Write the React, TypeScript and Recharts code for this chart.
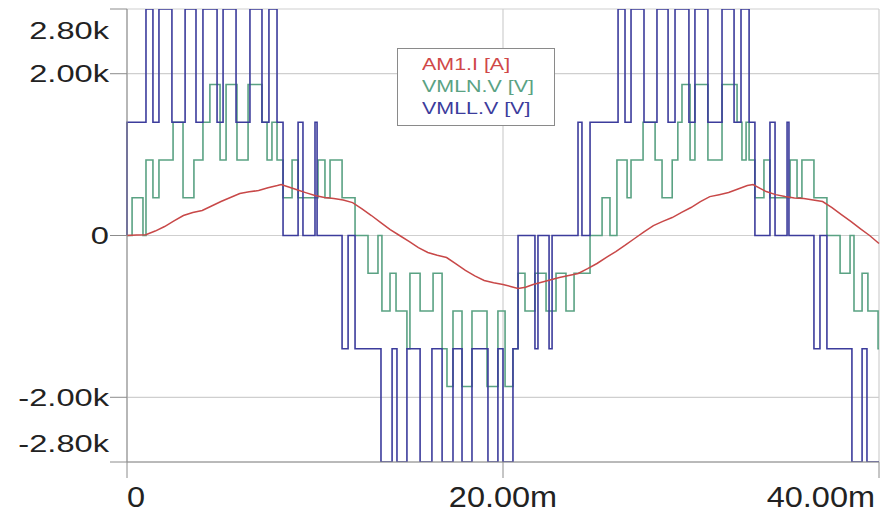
import { LineChart, Line, XAxis, YAxis, CartesianGrid } from 'recharts'

// time axis in ms, voltage/current axis in V / A
const timeTicks = [0, 20, 40]
const timeLabels = ['0', '20.00m', '40.00m']
const valueTicks = [-2800, -2000, 0, 2000, 2800]
const valueLabels = ['-2.80k', '-2.00k', '0', '2.00k', '2.80k']

// AM1.I [A] : [t ms, A]
const am1Current: [number, number][] = [
  [0, 0], [0.5, 5], [1, 10], [1.5, 55], [2, 111], [2.5, 180], [3, 247], [3.5, 285], [4, 309],
  [4.5, 365], [5, 420], [5.5, 470], [6, 519], [6.5, 540], [7, 556], [7.5, 590], [8, 617],
  [8.2, 630], [8.6, 600], [9, 568], [9.5, 530], [10, 494], [10.5, 470], [11, 457], [11.5, 440],
  [12, 407], [12.5, 330], [13, 247], [13.5, 160], [14, 74], [14.5, 0], [15, -74], [15.5, -150],
  [16, -210], [16.5, -245], [17, -272], [17.5, -350], [18, -432], [18.5, -500], [19, -556],
  [19.5, -585], [20, -605], [20.4, -630], [20.8, -654], [21.2, -640], [21.6, -605], [22, -580],
  [22.5, -550], [23, -519], [23.5, -495], [24, -469], [24.5, -410], [25, -346], [25.5, -270],
  [26, -198], [26.5, -120], [27, -37], [27.5, 45], [28, 123], [28.5, 175], [29, 222], [29.5, 285],
  [30, 346], [30.5, 420], [31, 481], [31.5, 505], [32, 531], [32.5, 575], [33, 617], [33.3, 630],
  [33.7, 580], [34, 543], [34.5, 505], [35, 481], [35.5, 465], [36, 457], [36.5, 440], [37, 420],
  [37.5, 345], [38, 259], [38.5, 175], [39, 86], [39.5, 0], [40, -99],
]

// VMLN.V [V] : step changes [t ms, V]
const vmlnSteps: [number, number][] = [
  [0, 0], [0.27, 467], [0.85, 0], [1.01, 933], [1.38, 467], [1.7, 933], [2.45, 1400], [2.98, 467],
  [3.56, 933], [4.04, 1400], [4.41, 1867], [4.95, 933], [5.27, 1867], [5.85, 933], [6.44, 1867],
  [7.18, 1400], [7.45, 933], [7.71, 1400], [7.98, 933], [8.3, 467], [8.78, 933], [9.1, 467],
  [10.16, 933], [10.53, 467], [10.8, 933], [11.44, 467], [12.13, 0], [12.82, -467], [13.35, 0],
  [13.56, -933], [13.99, -467], [14.31, -933], [14.89, -1400], [15.05, -467], [15.59, -933],
  [16.28, -467], [16.76, -1400], [17.02, -1867], [17.34, -933], [17.82, -1867], [18.35, -933],
  [19.15, -1867], [19.73, -933], [20.11, -1867], [20.53, -1400], [20.8, -467], [21.17, -933],
  [21.7, -467], [22.29, -933], [22.82, -467], [23.35, -933], [23.78, -467], [24.63, 0],
  [25.27, 467], [25.69, 0], [26.06, 933], [26.6, 467], [26.81, 933], [27.45, 1400], [28.09, 933],
  [28.46, 467], [29.0, 933], [29.3, 1400], [29.52, 1867], [29.95, 933], [30.21, 1867], [30.9, 933],
  [31.65, 1867], [32.45, 1400], [32.71, 933], [32.93, 1400], [33.09, 933], [33.4, 467], [33.88, 933],
  [34.2, 467], [35.27, 933], [35.64, 467], [35.9, 933], [36.54, 467], [37.23, 0], [37.93, -467],
  [38.46, 0], [38.67, -933], [39.1, -467], [39.41, -933], [39.95, -1400], [40, -1400],
]

// VMLL.V [V] : step changes [t ms, V]
const vmllSteps: [number, number][] = [
  [0, 0], [0, 1400], [1.01, 2800], [1.38, 1400], [1.7, 2800], [2.39, 1400], [3.09, 2800], [3.67, 1400],
  [4.04, 2800], [4.79, 1400], [5.11, 2800], [5.8, 1400], [6.54, 2800], [7.18, 1400], [7.55, 2800],
  [7.98, 1400], [8.3, 0], [9.1, 1400], [9.36, 0], [10.0, 1400], [10.11, 0], [11.44, -1400], [11.76, 0],
  [12.13, -1400], [13.51, -2800], [14.1, -1400], [14.36, -2800], [14.89, -1400], [15.59, -2800],
  [16.22, -1400], [16.76, -2800], [17.34, -1400], [17.82, -2800], [18.35, -1400], [19.2, -2800],
  [19.73, -1400], [20.0, -2800], [20.53, -1400], [20.8, 0], [21.7, -1400], [21.86, 0], [22.45, -1400],
  [22.61, 0], [23.99, 1400], [24.2, 0], [24.63, 1400], [26.12, 2800], [26.49, 1400], [26.81, 2800],
  [27.5, 1400], [28.19, 2800], [28.78, 1400], [29.15, 2800], [29.89, 1400], [30.21, 2800], [30.9, 1400],
  [31.65, 2800], [32.29, 1400], [32.66, 2800], [33.09, 1400], [33.4, 0], [34.2, 1400], [34.47, 0],
  [35.11, 1400], [35.21, 0], [36.54, -1400], [36.86, 0], [37.23, -1400], [38.56, -2800], [39.1, -1400],
  [39.36, -2800], [40, -2800],
]

const toRows = (pts: [number, number][]) => pts.map(([t, v]) => ({ t, v }))

const FONT = '"Liberation Sans", Arial, sans-serif'

const YTick = ({ x, y, payload }: any) => {
  const i = valueTicks.indexOf(payload.value)
  let dy = 0
  if (payload.value === 2800) dy = 21
  if (payload.value === -2800) dy = -19
  return (
    <g transform={`translate(${x},${y + dy}) scale(1.36,1)`}>
      <text x={0} y={0} dy={8.5} textAnchor="end" fontSize={24} fill="#222" fontFamily={FONT}>
        {valueLabels[i]}
      </text>
    </g>
  )
}

const XTick = ({ x, y, payload }: any) => {
  const i = timeTicks.indexOf(payload.value)
  const anchor = i === 0 ? 'start' : i === timeTicks.length - 1 ? 'end' : 'middle'
  return (
    <g transform={`translate(${x},${y}) scale(1.12,1)`}>
      <text x={0} y={0} dy={27} textAnchor={anchor} fontSize={29} fill="#222" fontFamily={FONT}>
        {timeLabels[i]}
      </text>
    </g>
  )
}

const legendItems = [
  { name: 'AM1.I [A]', color: '#d04848' },
  { name: 'VMLN.V [V]', color: '#5aa283' },
  { name: 'VMLL.V [V]', color: '#3c3c9c' },
]

const LegendBox = () => (
  <div
    style={{
      position: 'absolute',
      left: 397,
      top: 48,
      width: 158,
      height: 78,
      border: '1px solid #8a8a8a',
      background: '#fff',
      boxSizing: 'border-box',
      paddingLeft: 24,
      paddingTop: 5,
      fontFamily: FONT,
      fontSize: 17,
      lineHeight: '22px',
    }}
  >
    {legendItems.map(item => (
      <div key={item.name} style={{ color: item.color, transform: 'scaleX(1.26)', transformOrigin: 'left' }}>
        {item.name}
      </div>
    ))}
  </div>
)

export default function App() {
  return (
    <div style={{ position: 'absolute', left: 0, top: 0, width: 883, height: 518, background: '#fff' }}>
      <LineChart width={883} height={518} margin={{ top: 9, right: 4, left: 0, bottom: 0 }}>
        <CartesianGrid stroke="#cfcfcf" strokeWidth={1.2} horizontalValues={valueTicks} verticalValues={timeTicks} />
        <XAxis
          dataKey="t"
          type="number"
          domain={[0, 40]}
          ticks={timeTicks}
          tick={<XTick />}
          tickSize={16}
          height={56}
          stroke="#8c8c8c"
          allowDuplicatedCategory={false}
        />
        <YAxis
          type="number"
          domain={[-2800, 2800]}
          ticks={valueTicks}
          tick={<YTick />}
          tickSize={17}
          tickMargin={1}
          width={127}
          stroke="#8c8c8c"
          allowDataOverflow
        />
        <Line
          data={toRows(vmlnSteps)}
          dataKey="v"
          type="stepAfter"
          stroke="#5aa283"
          strokeWidth={1.6}
          dot={false}
          isAnimationActive={false}
        />
        <Line
          data={toRows(vmllSteps)}
          dataKey="v"
          type="stepAfter"
          stroke="#3c3c9c"
          strokeWidth={1.6}
          dot={false}
          isAnimationActive={false}
        />
        <Line
          data={toRows(am1Current)}
          dataKey="v"
          type="linear"
          stroke="#c84848"
          strokeWidth={1.5}
          dot={false}
          isAnimationActive={false}
        />
      </LineChart>
      <LegendBox />
    </div>
  )
}
